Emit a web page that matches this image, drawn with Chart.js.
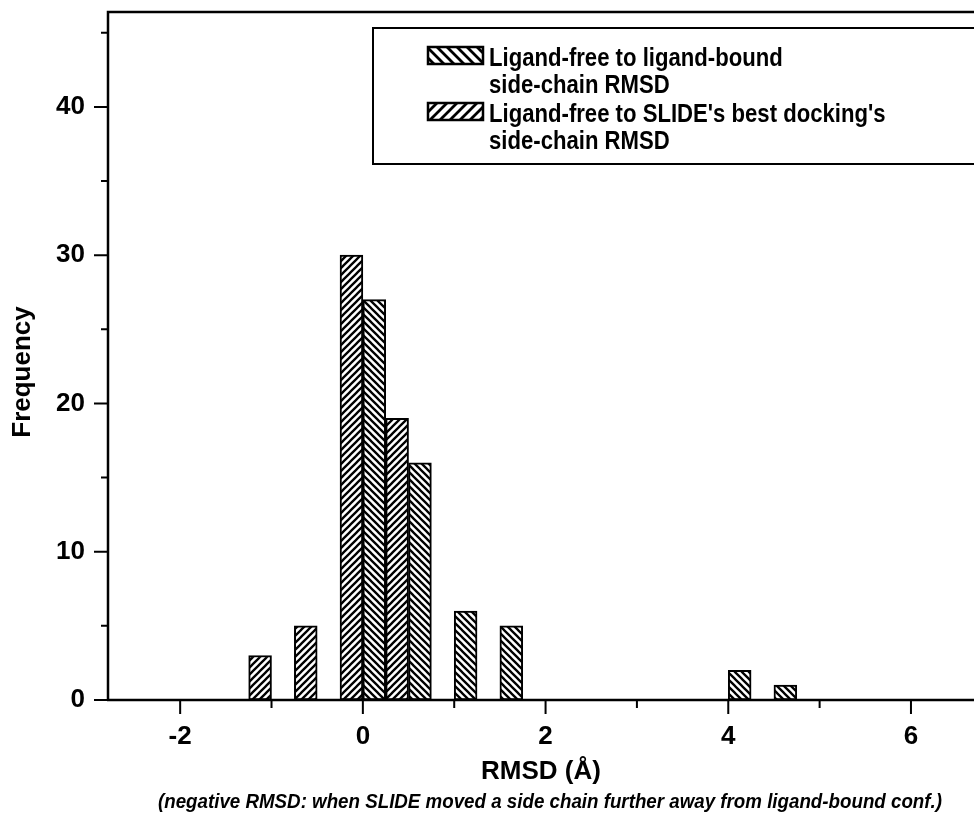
<!DOCTYPE html>
<html>
<head>
<meta charset="utf-8">
<script src="https://cdn.jsdelivr.net/npm/chart.js@4.4.1/dist/chart.umd.min.js"></script>
<style>
  html, body { margin: 0; padding: 0; background: #fff; }
  canvas { display: block; }
</style>
</head>
<body>
<canvas id="chart" width="974" height="815"></canvas>
<script>
// histogram bins (RMSD, Å) and counts
const binCenters = [-1, -0.5, 0, 0.5, 1, 1.5, 4, 4.5];
const slideCounts = [3, 5, 30, 19, null, null, null, null];
const boundCounts = [null, null, 27, 16, 6, 5, 2, 1];

const xTicks = [-2, 0, 2, 4, 6];
const xMinorTicks = [-1, 1, 3, 5];
const yTicks = [0, 10, 20, 30, 40];
const yMinorTicks = [5, 15, 25, 35, 45];

const boundLabel = ["Ligand-free to ligand-bound", "side-chain RMSD"];
const slideLabel = ["Ligand-free to SLIDE's best docking's", "side-chain RMSD"];
const xTitle = "RMSD (Å)";
const yTitle = "Frequency";
const note = "(negative RMSD: when SLIDE moved a side chain further away from ligand-bound conf.)";

const FONT = "'Liberation Sans', Arial, sans-serif";
const canvas = document.getElementById("chart");
const ctx = canvas.getContext("2d");

function makeHatch(dir, size, width) {
    const tile = document.createElement("canvas");
    tile.width = size;
    tile.height = size;
    const g = tile.getContext("2d");
    g.fillStyle = "#fff";
    g.fillRect(0, 0, size, size);
    g.strokeStyle = "#000";
    g.lineWidth = width;
    g.beginPath();
    if (dir === "/") {
        g.moveTo(-1, size + 1); g.lineTo(size + 1, -1);
        g.moveTo(-2, 2); g.lineTo(2, -2);
        g.moveTo(size - 2, size + 2); g.lineTo(size + 2, size - 2);
    } else {
        g.moveTo(-1, -1); g.lineTo(size + 1, size + 1);
        g.moveTo(size - 2, -2); g.lineTo(size + 2, 2);
        g.moveTo(-2, size - 2); g.lineTo(2, size + 2);
    }
    g.stroke();
    return ctx.createPattern(tile, "repeat");
}

const slideHatch = makeHatch("/", 7, 2.3);
const boundHatch = makeHatch("\\", 7, 2.3);
const slideSwatch = makeHatch("/", 10, 2.8);
const boundSwatch = makeHatch("\\", 10, 2.8);

function toPoints(values) {
    return binCenters.map((x, i) => ({ x: x, y: values[i] }));
}

// frame, tick marks, titles and the boxed legend
const decorations = {
    id: "decorations",
    afterDatasetsDraw(chart) {
        const c = chart.ctx;
        const { left, right, top, bottom } = chart.chartArea;
        const xs = chart.scales.x;
        const ys = chart.scales.y;

        c.save();
        c.strokeStyle = "#000";
        c.lineWidth = 2.5;
        c.beginPath();
        c.moveTo(left, bottom); c.lineTo(left, top); c.lineTo(right + 5, top);
        c.moveTo(left - 1, bottom); c.lineTo(right + 5, bottom);
        c.stroke();

        c.lineWidth = 2;
        c.beginPath();
        xTicks.forEach((v) => {
            const px = xs.getPixelForValue(v);
            c.moveTo(px, bottom); c.lineTo(px, bottom + 14);
        });
        xMinorTicks.forEach((v) => {
            const px = xs.getPixelForValue(v);
            c.moveTo(px, bottom); c.lineTo(px, bottom + 8);
        });
        yTicks.forEach((v) => {
            const py = ys.getPixelForValue(v);
            c.moveTo(left - 14, py); c.lineTo(left, py);
        });
        yMinorTicks.forEach((v) => {
            const py = ys.getPixelForValue(v);
            c.moveTo(left - 7, py); c.lineTo(left, py);
        });
        c.stroke();

        c.fillStyle = "#000";
        c.font = "bold 26px " + FONT;
        c.textAlign = "center";
        c.textBaseline = "alphabetic";
        c.fillText(xTitle, (left + right) / 2, 779);

        c.save();
        c.translate(30, 372);
        c.rotate(-Math.PI / 2);
        c.fillText(yTitle, 0, 0);
        c.restore();

        // note under the axis title, squeezed like the original condensed face
        c.font = "italic bold 21px " + FONT;
        c.textAlign = "left";
        const w = c.measureText(note).width;
        c.save();
        c.translate(158, 808);
        c.scale(784 / w, 1);
        c.fillText(note, 0, 0);
        c.restore();

        // legend box
        c.lineWidth = 2;
        c.strokeRect(373, 28, 620, 136);
        const entries = [
            { lines: boundLabel, fill: boundSwatch, y: 47 },
            { lines: slideLabel, fill: slideSwatch, y: 103 },
        ];
        c.font = "bold 25px " + FONT;
        entries.forEach((e) => {
            c.fillStyle = e.fill;
            c.fillRect(428, e.y, 55, 17);
            c.lineWidth = 2.5;
            c.strokeRect(428, e.y, 55, 17);
            c.fillStyle = "#000";
            e.lines.forEach((line, i) => {
                c.save();
                c.translate(489, e.y + 19 + i * 27);
                c.scale(0.885, 1);
                c.fillText(line, 0, 0);
                c.restore();
            });
        });
        c.restore();
    },
};

new Chart(canvas, {
    type: "bar",
    data: {
        datasets: [
            {
                label: slideLabel.join(" "),
                data: toPoints(slideCounts),
                backgroundColor: slideHatch,
                borderColor: "#000",
                borderWidth: 2,
                borderSkipped: false,
                categoryPercentage: 1,
                barPercentage: 1,
            },
            {
                label: boundLabel.join(" "),
                data: toPoints(boundCounts),
                backgroundColor: boundHatch,
                borderColor: "#000",
                borderWidth: 2,
                borderSkipped: false,
                categoryPercentage: 1,
                barPercentage: 1,
            },
        ],
    },
    options: {
        responsive: false,
        animation: false,
        devicePixelRatio: 1,
        layout: { padding: { top: 12, right: 0, left: 0, bottom: 0 } },
        plugins: {
            legend: { display: false },
            tooltip: { enabled: false },
        },
        scales: {
            x: {
                type: "linear",
                min: -2.79,
                max: 6.69,
                offset: false,
                afterBuildTicks: (s) => { s.ticks = xTicks.map((v) => ({ value: v })); },
                afterFit: (s) => {
                    s.height = 115;
                    s.paddingLeft = 0;
                    s.paddingRight = 0;
                },
                grid: { display: false, drawTicks: false },
                border: { display: false },
                ticks: {
                    color: "#000",
                    font: { family: FONT, size: 26, weight: "bold" },
                    padding: 21,
                    maxRotation: 0,
                },
            },
            y: {
                min: 0,
                max: 46.4,
                afterBuildTicks: (s) => { s.ticks = yTicks.map((v) => ({ value: v })); },
                afterFit: (s) => {
                    s.width = 108;
                    s.paddingTop = 0;
                    s.paddingBottom = 0;
                },
                grid: { display: false, drawTicks: false },
                border: { display: false },
                ticks: {
                    color: "#000",
                    font: { family: FONT, size: 26, weight: "bold" },
                    padding: 23,
                },
            },
        },
    },
    plugins: [decorations],
});
</script>
</body>
</html>
